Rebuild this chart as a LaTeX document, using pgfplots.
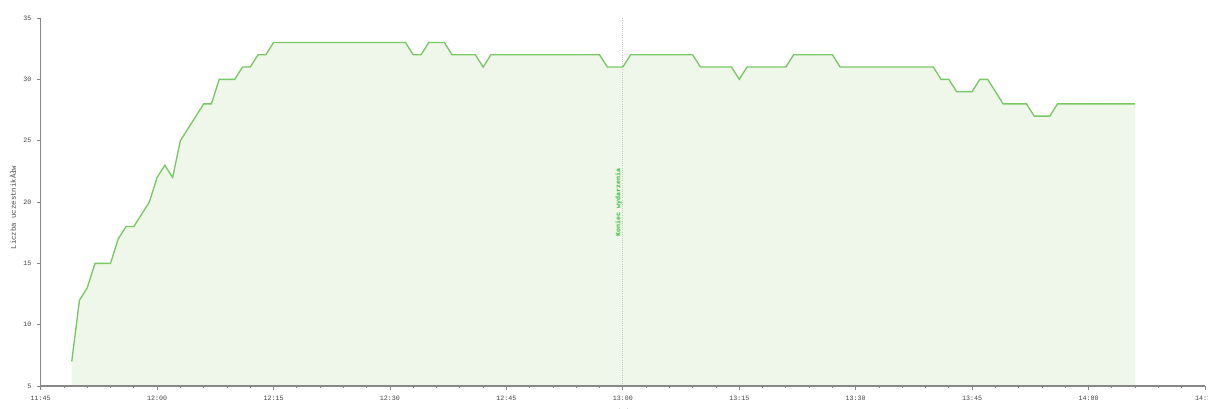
\documentclass[border=0pt]{standalone}
\usepackage{fontspec}
\setmainfont{Liberation Mono}
\usepackage{pgfplots}
\pgfplotsset{compat=1.18}
\definecolor{linegreen}{HTML}{78C864}
\definecolor{fillgreen}{HTML}{EFF7EA}
\definecolor{txtgreen}{HTML}{33BB33}
\definecolor{axgray}{HTML}{888888}
\definecolor{lblgray}{HTML}{444444}
\begin{document}
\begin{tikzpicture}
\begin{axis}[
  scale only axis,
  width=873.2pt, height=276pt,
  xmin=0, xmax=150, ymin=5, ymax=35,
  axis lines=left,
  axis on top=true,
  axis line style={axgray, -, line width=0.8pt},
  xtick={0,15,...,150},
  xticklabels={11:45,12:00,12:15,12:30,12:45,13:00,13:15,13:30,13:45,14:00,14:15},
  minor x tick num=4,
  ytick={5,10,...,35},
  tick align=outside,
  major tick length=3pt,
  minor tick length=1.6pt,
  tick style={axgray, line width=0.6pt},
  ticklabel style={font=\fontsize{5}{6}\selectfont, text=lblgray},
  /pgf/number format/assume math mode=true,
  xticklabel style={yshift=-1pt},
  yticklabel style={xshift=-0.5pt},
  xlabel={Godzina},
  ylabel={Liczba uczestnikĂłw},
  every axis x label/.style={at={(axis description cs:0.5,0)}, anchor=north, yshift=-13.5pt, font=\fontsize{5.5}{6}\selectfont, text=lblgray},
  every axis y label/.style={at={(axis description cs:-0.0238,0.485)}, rotate=90, anchor=center, font=\fontsize{5.5}{6}\selectfont, text=lblgray},
  clip=true,
]
\addplot[draw=none, fill=fillgreen] coordinates {
(4,7) (5,12) (6,13) (7,15) (9,15) (10,17) (11,18) (12,18) (13,19) (14,20) (15,22) (16,23) (17,22) (18,25) (19,26) (20,27) (21,28) (22,28) (23,30) (25,30) (26,31) (27,31) (28,32) (29,32) (30,33)
(47,33) (48,32) (49,32) (50,33) (52,33) (53,32) (56,32) (57,31) (58,32) (72,32) (73,31) (75,31) (76,32) (84,32) (85,31) (89,31) (90,30) (91,31) (96,31) (97,32) (102,32) (103,31) (115,31) (116,30) (117,30) (118,29) (120,29) (121,30) (122,30) (123,29) (124,28) (127,28) (128,27) (130,27) (131,28) (141,28)
} -- (axis cs:141,5) -- (axis cs:4,5) -- cycle;
\addplot[linegreen, line width=1pt, no marks] coordinates {
(4,7) (5,12) (6,13) (7,15) (9,15) (10,17) (11,18) (12,18) (13,19) (14,20) (15,22) (16,23) (17,22) (18,25) (19,26) (20,27) (21,28) (22,28) (23,30) (25,30) (26,31) (27,31) (28,32) (29,32) (30,33)
(47,33) (48,32) (49,32) (50,33) (52,33) (53,32) (56,32) (57,31) (58,32) (72,32) (73,31) (75,31) (76,32) (84,32) (85,31) (89,31) (90,30) (91,31) (96,31) (97,32) (102,32) (103,31) (115,31) (116,30) (117,30) (118,29) (120,29) (121,30) (122,30) (123,29) (124,28) (127,28) (128,27) (130,27) (131,28) (141,28)
};
\draw[black!22, densely dotted, line width=0.6pt] (axis cs:75,5) -- (axis cs:75,35);
\node[rotate=90, anchor=south, inner sep=0.6pt, text=txtgreen, font=\fontsize{5}{6}\selectfont\bfseries] at (axis cs:75,20) {Koniec wydarzenia};
\end{axis}
\pgfresetboundingbox
\path[use as bounding box] (-30.5pt,-16.5pt) rectangle (875.45pt,289.5pt);
\end{tikzpicture}
\end{document}
